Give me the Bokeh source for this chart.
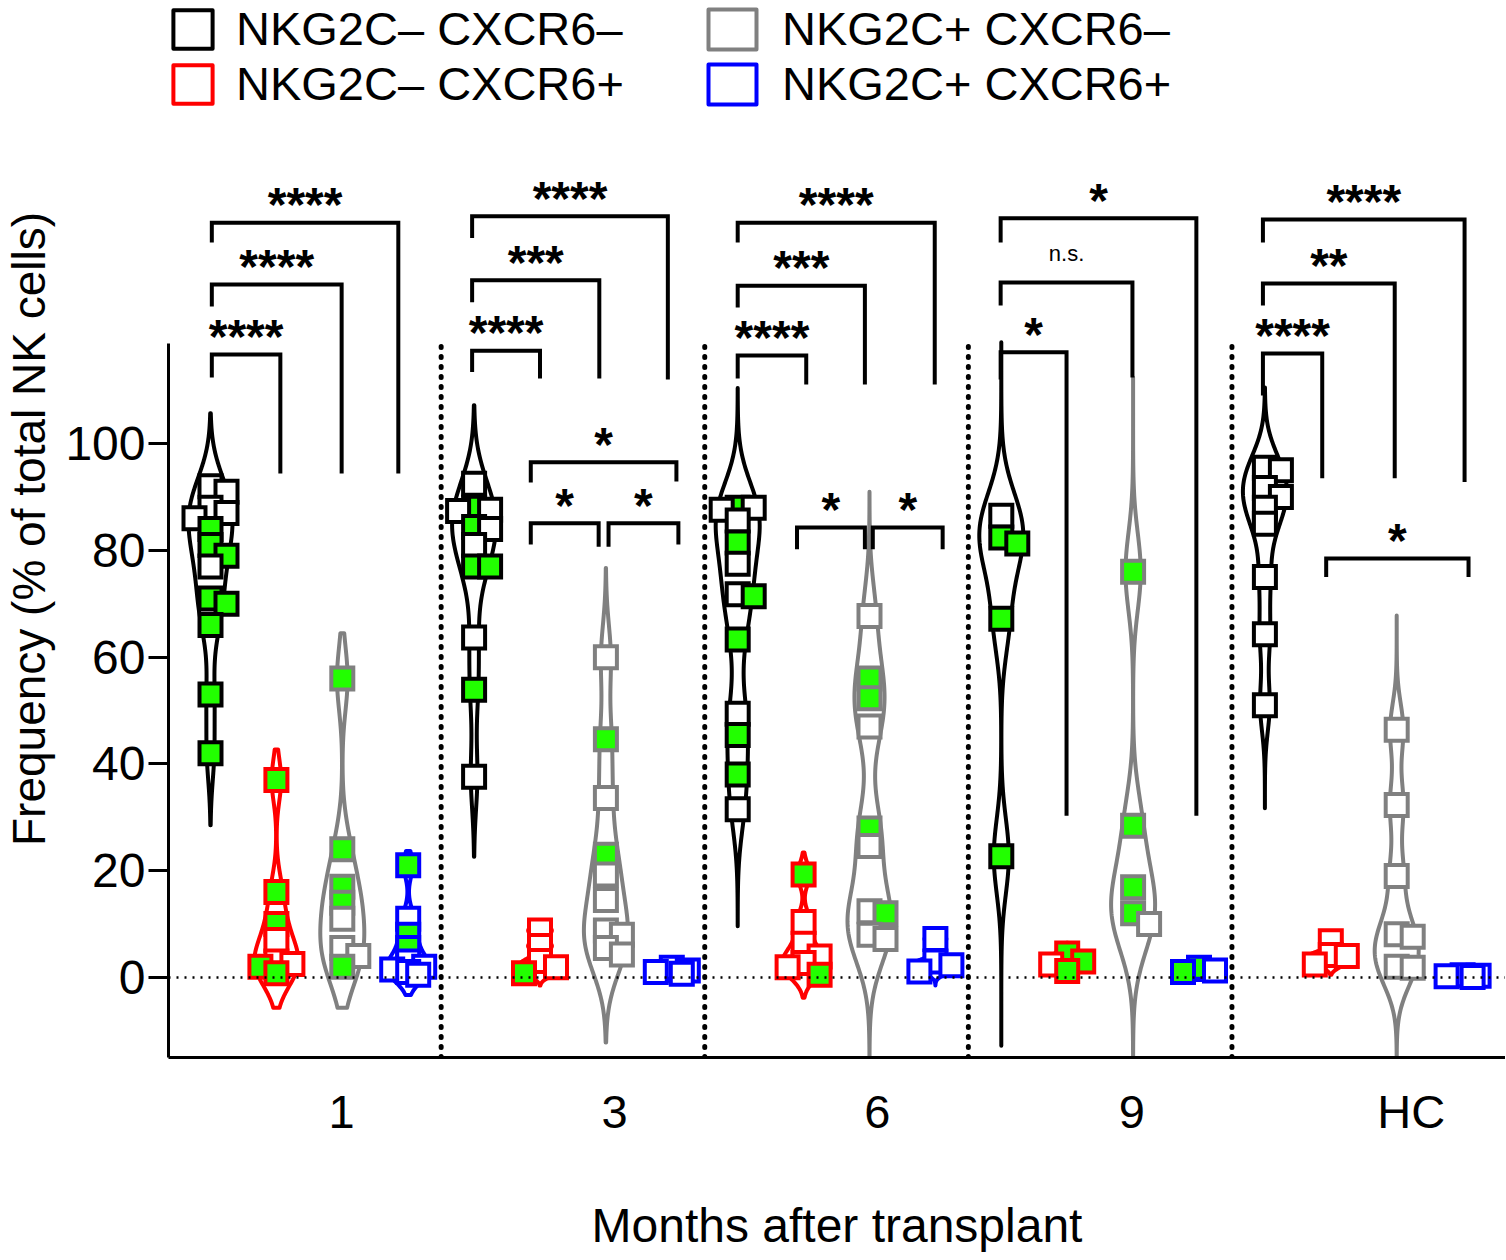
import numpy as np
from bokeh.plotting import figure
from bokeh.models import (ColumnDataSource, FixedTicker, Legend, LegendItem,
                          Range1d, Span)
from bokeh.core.properties import value
from bokeh.embed import file_html
from bokeh.resources import INLINE

# ------------------------------------------------------------------ data
groups = ["1", "3", "6", "9", "HC"]
group_tick_pos = [1.99, 6.13, 10.12, 13.98, 18.22]
series_names = ["NKG2C\u2013 CXCR6\u2013", "NKG2C\u2013 CXCR6+",
                "NKG2C+ CXCR6\u2013", "NKG2C+ CXCR6+"]
x_title = "Months after transplant"
y_title = "Frequency (% of total NK cells)"
y_ticks = [0, 20, 40, 60, 80, 100]

# month 1
m1_nn = [92, 91, 88, 87, 86, 84, 81, 79, 77, 71, 70, 66, 53, 42]
m1_nn_green = [0, 0, 0, 0, 0, 1, 1, 1, 0, 1, 1, 1, 1, 1]
m1_np = [37, 16, 10, 7, 3, 2.5, 2, 0.8]
m1_np_green = [1, 1, 1, 0, 0, 0, 1, 1]
m1_pn = [56, 24, 17, 14, 11, 5.5, 4, 2]
m1_pn_green = [1, 1, 1, 1, 0, 0, 0, 1]
m1_pp = [21, 11, 8, 5.5, 3, 2, 1.5, 1, 0.5]
m1_pp_green = [1, 0, 1, 1, 0, 0, 0, 0, 0]
# month 3
m3_nn = [92.5, 88, 87.6, 87.4, 84.4, 84, 81, 77, 77, 63.7, 53.9, 37.6]
m3_nn_green = [0, 1, 0, 0, 1, 0, 0, 1, 1, 0, 1, 0]
m3_np = [8.8, 5.9, 3.1, 1.9, 0.8]
m3_np_green = [0, 0, 0, 0, 1]
m3_pn = [60, 44.6, 33.6, 23, 19.3, 14.5, 8.8, 8, 5.5, 4.3]
m3_pn_green = [0, 1, 0, 1, 0, 0, 0, 0, 0, 0]
m3_pp = [1.8, 1.3, 1.0, 0.7]
m3_pp_green = [0, 0, 0, 0]
# month 6
m6_nn = [88, 88, 87.6, 85.6, 81.5, 77.5, 71.8, 71.4, 63.3, 49.4, 45.4, 38, 31.5]
m6_nn_green = [1, 0, 0, 0, 1, 0, 0, 1, 1, 0, 1, 1, 0]
m6_np = [19.3, 10.4, 6.3, 3.9, 2.7, 1.9, 0.5]
m6_np_green = [1, 0, 0, 0, 0, 0, 1]
m6_pn = [67.7, 56, 52.3, 47, 27.9, 24.6, 12.4, 12, 8, 7.2]
m6_pn_green = [0, 1, 1, 0, 1, 0, 0, 1, 0, 0]
m6_pp = [7.2, 3, 2.3, 1.1]
m6_pp_green = [0, 0, 0, 0]
# month 9
m9_nn = [86.5, 82.4, 81.3, 67.2, 22.7]
m9_nn_green = [0, 1, 1, 1, 1]
m9_np = [4.5, 3, 2.4, 1.2]
m9_np_green = [1, 1, 0, 1]
m9_pn = [76, 28.4, 16.9, 12, 10]
m9_pn_green = [1, 1, 1, 1, 0]
m9_pp = [1.8, 1.3, 1.0]
m9_pp_green = [1, 0, 1]
# healthy controls
hc_nn = [95.5, 95, 91.7, 90, 88, 85, 75, 64.3, 51]
hc_nn_green = [0, 0, 0, 0, 0, 0, 0, 0, 0]
hc_np = [6.8, 4.2, 4, 2.4]
hc_np_green = [0, 0, 0, 0]
hc_pn = [46.4, 32.3, 19, 8.1, 7.6, 2, 1.8]
hc_pn_green = [0, 0, 0, 0, 0, 0, 0]
hc_pp = [0.4, 0.3, 0.2, 0.1]
hc_pp_green = [0, 0, 0, 0]

# violin extents (value range each violin covers)
m1_violin_lo = [28.5, -5.7, -5.7, -3.3]
m1_violin_hi = [105.7, 42.7, 64.5, 23.7]
m3_violin_lo = [22.6, -1.5, -12.2, -1.0]
m3_violin_hi = [107.2, 10.5, 76.7, 3.0]
m6_violin_lo = [9.6, -3.8, -17, -1.5]
m6_violin_hi = [110.4, 23.4, 91, 9.0]
m9_violin_lo = [-12.8, -0.5, -17, -0.5]
m9_violin_hi = [119, 6.5, 112.4, 3.0]
hc_violin_lo = [31.7, 0.5, -17, -0.5]
hc_violin_hi = [110.5, 8.5, 67.8, 1.0]

# significance brackets: x in slot units, y in % units
br_x0 = [0.02, 0.02, 0.02,
         3.97, 3.97, 3.97, 4.86, 4.86, 6.04,
         8.0, 8.0, 8.0, 8.9, 10.05,
         11.99, 11.99, 11.99,
         15.97, 15.97, 15.97, 16.93]
br_x1 = [1.06, 1.99, 2.85,
         5.00, 5.90, 6.94, 7.07, 5.89, 7.10,
         9.04, 9.93, 10.99, 9.93, 11.11,
         12.99, 13.99, 14.96,
         16.87, 17.97, 19.03, 19.09]
br_y = [116.7, 129.8, 141.4,
        117.4, 130.6, 142.6, 96.5, 85.1, 85.1,
        116.5, 129.6, 141.4, 84.3, 84.3,
        117.1, 130.2, 142.2,
        116.9, 130.0, 142.0, 78.5]
br_left_end = [112.4, 125.7, 137.7,
               113.4, 126.5, 138.5, 92.7, 81.1, 80.7,
               112.2, 125.5, 137.7, 80.2, 80.2,
               112.0, 125.9, 137.7,
               109.0, 125.9, 137.7, 75.0]
br_right_end = [94.4, 94.4, 94.4,
                112.2, 112.2, 112.0, 92.9, 80.7, 81.1,
                111.1, 111.1, 111.1, 80.2, 80.2,
                30.3, 112.4, 30.3,
                93.5, 93.5, 92.8, 75.0]
br_label = ["****", "****", "****",
            "****", "***", "****", "*", "*", "*",
            "****", "***", "****", "*", "*",
            "*", "n.s.", "*",
            "****", "**", "****", "*"]

group_values = [
    [m1_nn, m1_np, m1_pn, m1_pp],
    [m3_nn, m3_np, m3_pn, m3_pp],
    [m6_nn, m6_np, m6_pn, m6_pp],
    [m9_nn, m9_np, m9_pn, m9_pp],
    [hc_nn, hc_np, hc_pn, hc_pp],
]
group_green = [
    [m1_nn_green, m1_np_green, m1_pn_green, m1_pp_green],
    [m3_nn_green, m3_np_green, m3_pn_green, m3_pp_green],
    [m6_nn_green, m6_np_green, m6_pn_green, m6_pp_green],
    [m9_nn_green, m9_np_green, m9_pn_green, m9_pp_green],
    [hc_nn_green, hc_np_green, hc_pn_green, hc_pp_green],
]
group_lo = [m1_violin_lo, m3_violin_lo, m6_violin_lo, m9_violin_lo, hc_violin_lo]
group_hi = [m1_violin_hi, m3_violin_hi, m6_violin_hi, m9_violin_hi, hc_violin_hi]

# ------------------------------------------------------------------ style
FONT = "Liberation Sans"
series_colors = ["#000000", "#ff0000", "#808080", "#0000ff"]
GREEN = "#22ff00"
W, H = 1505, 1258
FRAME_L, FRAME_T = 168, 0
PX_PER_Y = 5.338
Y_LO = -15.0
AXIS_Y_PX = 1057            # pixel row of the x axis line
FRAME_H = AXIS_Y_PX - FRAME_T
FRAME_B = H - AXIS_Y_PX
FRAME_W = W - FRAME_L
Y_HI = Y_LO + FRAME_H / PX_PER_Y
SLOT_PX = 65.9
X0_PX = 42.0                # px from frame left to slot 0
HALF_W = 22.0 / SLOT_PX
MARK = 22
BW_DIV = 9.0

x_lo = -X0_PX / SLOT_PX
x_hi = (FRAME_W - X0_PX) / SLOT_PX

p = figure(width=W, height=H, output_backend="svg", toolbar_location=None,
           x_range=Range1d(x_lo, x_hi), y_range=Range1d(Y_LO, Y_HI),
           min_border_left=FRAME_L, min_border_right=0, min_border_top=FRAME_T,
           min_border_bottom=FRAME_B)
p.outline_line_color = None
p.xgrid.visible = False
p.ygrid.visible = False
p.background_fill_color = "white"


def violin(vals, lo, hi, center):
    v = np.asarray(vals, float)
    bw = max((v.max() - v.min()) / BW_DIV, 0.8)
    ys = np.linspace(lo, hi, 300)
    d = np.exp(-0.5 * ((ys[:, None] - v[None, :]) / bw) ** 2).sum(axis=1)
    w = HALF_W * d / d.max()
    xs = np.concatenate([center + w, (center - w)[::-1]])
    yy = np.concatenate([ys, ys[::-1]])
    return list(xs), list(yy)


def swarm(vals):
    s = MARK + 4
    placed = []
    offs = []
    cands = [0, 10, -10, 16, -16, 22, -22]
    for v in vals:
        y = v * PX_PER_Y
        best = None
        for c in cands:
            if all(not (abs(c - px) < 0.45 * s and abs(y - py) < 0.5 * s)
                   for px, py in placed):
                best = c
                break
        if best is None:
            best = max(cands, key=lambda c: min(max(abs(c - px), abs(y - py))
                                                for px, py in placed))
        placed.append((best, y))
        offs.append(best / SLOT_PX)
    return offs


vx, vy, vc = [], [], []
px_, py_, pline, pfill = [], [], [], []
for g in range(len(groups)):
    for k in range(4):
        center = 4 * g + k
        vals = group_values[g][k]
        xs, ys = violin(vals, group_lo[g][k], group_hi[g][k], center)
        vx.append(xs)
        vy.append(ys)
        vc.append(series_colors[k])
        for off, v, gr in zip(swarm(vals), vals, group_green[g][k]):
            px_.append(center + off)
            py_.append(v)
            pline.append(series_colors[k])
            pfill.append(GREEN if gr else "white")

# zero reference line
p.add_layout(Span(location=0, dimension="width", line_color="black",
                  line_width=2.5, line_dash="2 6"))

# group separators
sep_x = [4 * g - 0.5 for g in range(1, len(groups))]
p.segment(x0=sep_x, x1=sep_x, y0=[Y_LO] * len(sep_x), y1=[118.7] * len(sep_x),
          line_color="black", line_width=5, line_dash="1 9", line_cap="round")

vr = p.patches(xs="xs", ys="ys", source=ColumnDataSource(dict(xs=vx, ys=vy, c=vc)),
               fill_color="white", fill_alpha=0.0, line_color="c", line_width=4,
               line_join="round")

p.scatter(x="x", y="y", source=ColumnDataSource(dict(x=px_, y=py_, lc=pline, fc=pfill)),
          marker="square", size=MARK, line_color="lc", fill_color="fc",
          line_width=4, line_join="miter")

# brackets
bxs = [[a, a, b, b] for a, b in zip(br_x0, br_x1)]
bys = [[le, y, y, re] for y, le, re in zip(br_y, br_left_end, br_right_end)]
p.multi_line(xs=bxs, ys=bys, line_color="black", line_width=4, line_join="miter")

star_idx = [i for i, t in enumerate(br_label) if t != "n.s."]
ns_idx = [i for i, t in enumerate(br_label) if t == "n.s."]
p.text(x=[(br_x0[i] + br_x1[i]) / 2 for i in star_idx],
       y=[br_y[i] + 3.4 for i in star_idx],
       text=[br_label[i] for i in star_idx],
       text_font=value(FONT), text_font_style="bold", text_font_size="48px",
       text_align="center", text_baseline="alphabetic", text_color="black")
p.text(x=[(br_x0[i] + br_x1[i]) / 2 for i in ns_idx],
       y=[br_y[i] + 5.4 for i in ns_idx],
       text=[br_label[i] for i in ns_idx],
       text_font=value(FONT), text_font_size="22px",
       text_align="center", text_baseline="alphabetic", text_color="black")

# axes
p.yaxis.ticker = FixedTicker(ticks=y_ticks)
p.yaxis.bounds = (Y_LO, 118.7)
p.yaxis.axis_line_width = 3
p.yaxis.major_tick_line_width = 3
p.yaxis.major_tick_out = 20
p.yaxis.major_tick_in = 0
p.yaxis.minor_tick_line_color = None
p.yaxis.major_label_standoff = 3
p.yaxis.major_label_text_font = FONT
p.yaxis.major_label_text_font_size = "48px"
p.yaxis.major_label_text_color = "black"
p.yaxis.axis_label = y_title
p.yaxis.axis_label_text_font = FONT
p.yaxis.axis_label_text_font_size = "46px"
p.yaxis.axis_label_text_font_style = "normal"
p.yaxis.axis_label_text_color = "black"
p.yaxis.axis_label_standoff = 7

p.xaxis.ticker = FixedTicker(ticks=group_tick_pos)
p.xaxis.major_label_overrides = {t: lab for t, lab in zip(group_tick_pos, groups)}
p.xaxis.axis_line_width = 3
p.xaxis.major_tick_line_color = None
p.xaxis.minor_tick_line_color = None
p.xaxis.major_label_standoff = 21
p.xaxis.major_label_text_font = FONT
p.xaxis.major_label_text_font_size = "47px"
p.xaxis.major_label_text_color = "black"
p.xaxis.axis_label = x_title
p.xaxis.axis_label_text_font = FONT
p.xaxis.axis_label_text_font_size = "48px"
p.xaxis.axis_label_text_font_style = "normal"
p.xaxis.axis_label_text_color = "black"
p.xaxis.axis_label_standoff = 58

# legend (two columns), drawn with the violin outlines of the first group
LEG_H = 111
for cols, lx, gw, gh, so in (([0, 1], 0, 49, 48, 19), ([2, 3], 534, 60, 50, 20)):
    leg = Legend(items=[LegendItem(label=series_names[i], renderers=[vr], index=i)
                        for i in cols],
                 location=(lx, FRAME_H - LEG_H), orientation="vertical",
                 glyph_width=gw, glyph_height=gh, label_standoff=so, spacing=0,
                 padding=0, margin=0, border_line_color=None,
                 background_fill_alpha=0.0, label_text_font=FONT,
                 label_text_font_size="47px", label_text_color="black")
    p.add_layout(leg, "center")

open("out.html", "w").write(file_html(p, INLINE))
